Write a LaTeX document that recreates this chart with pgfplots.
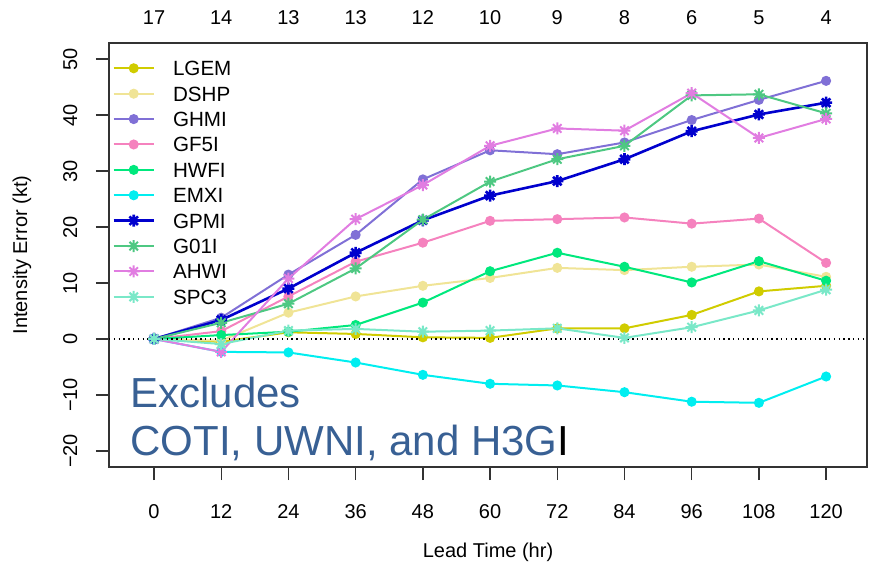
\documentclass[border=0pt]{standalone}
\usepackage{pgfplots}
\pgfplotsset{compat=1.18}
\usepackage{pgfplotstable}
\usepackage{fontspec}
\setmainfont{Liberation Sans}

% R-style pch=8 star (plus and cross)
\pgfdeclareplotmark{rstar}{%
  \pgfpathmoveto{\pgfqpoint{-\pgfplotmarksize}{0pt}}%
  \pgfpathlineto{\pgfqpoint{\pgfplotmarksize}{0pt}}%
  \pgfpathmoveto{\pgfqpoint{0pt}{-\pgfplotmarksize}}%
  \pgfpathlineto{\pgfqpoint{0pt}{\pgfplotmarksize}}%
  \pgfpathmoveto{\pgfqpoint{-0.7071\pgfplotmarksize}{-0.7071\pgfplotmarksize}}%
  \pgfpathlineto{\pgfqpoint{0.7071\pgfplotmarksize}{0.7071\pgfplotmarksize}}%
  \pgfpathmoveto{\pgfqpoint{-0.7071\pgfplotmarksize}{0.7071\pgfplotmarksize}}%
  \pgfpathlineto{\pgfqpoint{0.7071\pgfplotmarksize}{-0.7071\pgfplotmarksize}}%
  \pgfusepathqstroke}

\definecolor{lgem}{RGB}{208,204,0}
\definecolor{dshp}{RGB}{240,228,150}
\definecolor{ghmi}{RGB}{128,112,214}
\definecolor{gf5i}{RGB}{245,130,190}
\definecolor{hwfi}{RGB}{0,232,125}
\definecolor{emxi}{RGB}{0,238,240}
\definecolor{gpmi}{RGB}{0,0,205}
\definecolor{g01i}{RGB}{78,200,130}
\definecolor{ahwi}{RGB}{225,125,225}
\definecolor{spc3}{RGB}{122,232,200}
\definecolor{notecol}{RGB}{56,96,148}

\pgfplotstableread{
t   LGEM DSHP GHMI GF5I HWFI EMXI  GPMI G01I AHWI SPC3
0   0    0    0    0    0    0     0    0    0    0
12  -0.5 -0.3 3.8  1.4  0.7  -2.3  3.4  2.9  -2.3 -0.9
24  1.2  4.7  11.5 7.6  1.3  -2.4  9.0  6.3  10.8 1.5
36  0.9  7.6  18.6 13.8 2.5  -4.2  15.4 12.6 21.4 1.8
48  0.3  9.5  28.5 17.2 6.5  -6.4  21.2 21.3 27.5 1.3
60  0.2  10.9 33.7 21.1 12.1 -8.0  25.6 28.1 34.5 1.5
72  1.9  12.7 33.0 21.4 15.4 -8.3  28.2 32.1 37.6 1.9
84  1.9  12.3 35.1 21.7 12.9 -9.5  32.1 34.5 37.2 0.2
96  4.3  12.9 39.1 20.6 10.1 -11.2 37.1 43.5 43.9 2.1
108 8.5  13.3 42.7 21.5 13.9 -11.4 40.1 43.7 35.9 5.1
120 9.5  11.1 46.1 13.6 10.4 -6.7  42.2 40.3 39.3 8.8
}\data

\begin{document}
\begin{tikzpicture}
\begin{axis}[
  name=ax,
  scale only axis,
  width=379pt, height=212pt,
  xmin=-8.04, xmax=127.3,
  ymin=-22.86, ymax=52.86,
  axis line style={line width=0.7pt, black!80},
  tick style={line width=0.7pt, black!80},
  tick align=outside,
  major tick length=6.5pt,
  xtick pos=bottom, ytick pos=left,
  xtick={0,12,24,36,48,60,72,84,96,108,120},
  xticklabels={0,12,24,36,48,60,72,84,96,108,120},
  ytick={-20,-10,0,10,20,30,40,50},
  yticklabels={−20,−10,0,10,20,30,40,50},
  tick label style={font=\fontsize{10}{12}\selectfont},
  xticklabel shift=8.8pt,
  yticklabel style={rotate=90, anchor=south},
  yticklabel shift=5.8pt,
  xlabel={Lead Time (hr)},
  ylabel={Intensity Error (kt)},
  label style={font=\fontsize{10}{12}\selectfont},
  xlabel style={at={(rel axis cs:0.5,-0.2005)}, anchor=center},
  ylabel style={at={(rel axis cs:-0.1148,0.5)}, anchor=center},
  legend style={at={(rel axis cs:0.004,0.959)}, anchor=north west,
    draw=none, fill=none, inner xsep=0pt, inner ysep=0pt,
    font=\fontsize{10.3}{12}\selectfont,
    nodes={inner sep=0pt, text height=7.5pt, text depth=0pt},
    row sep=5.2pt},
  legend cell align=left,
  legend image code/.code={%
    \draw[mark repeat=2, mark phase=2, #1] plot coordinates {(0pt,0pt) (10pt,0pt) (20pt,0pt)};
    \path (29pt,0pt);},
]
\addplot[lgem, line width=1pt, mark=*, mark size=2pt] table[x=t, y=LGEM]{\data};
\addplot[dshp, line width=1pt, mark=*, mark size=2pt] table[x=t, y=DSHP]{\data};
\addplot[ghmi, line width=1pt, mark=*, mark size=2pt] table[x=t, y=GHMI]{\data};
\addplot[gf5i, line width=1pt, mark=*, mark size=2pt] table[x=t, y=GF5I]{\data};
\addplot[hwfi, line width=1pt, mark=*, mark size=2pt] table[x=t, y=HWFI]{\data};
\addplot[emxi, line width=1pt, mark=*, mark size=2pt] table[x=t, y=EMXI]{\data};
\addplot[gpmi, line width=1.3pt, mark=rstar, mark size=3pt] table[x=t, y=GPMI]{\data};
\addplot[g01i, line width=1pt, mark=rstar, mark size=3pt] table[x=t, y=G01I]{\data};
\addplot[ahwi, line width=1pt, mark=rstar, mark size=3pt] table[x=t, y=AHWI]{\data};
\addplot[spc3, line width=1pt, mark=rstar, mark size=3pt] table[x=t, y=SPC3]{\data};
\legend{LGEM,DSHP,GHMI,GF5I,HWFI,EMXI,GPMI,G01I,AHWI,SPC3}
\addplot[black, line width=0.75pt, dash pattern=on 0.75pt off 1.65pt, forget plot]
  coordinates {(-8.04,0) (127.3,0)};
\node[anchor=base west, inner sep=0pt, text=notecol, font=\fontsize{21}{24}\selectfont]
  at (rel axis cs:0.0277,0.1415) {Excludes};
\node[anchor=base west, inner sep=0pt, text=notecol, font=\fontsize{21}{24}\selectfont]
  at (rel axis cs:0.0277,0.0283) {COTI, UWNI, and H3G{\color{black}I}};
\end{axis}
\begin{axis}[
  scale only axis,
  width=379pt, height=212pt,
  xmin=-8.04, xmax=127.3,
  ymin=-22.86, ymax=52.86,
  axis x line*=top, axis y line=none,
  x axis line style={draw=none},
  major tick length=0pt,
  xtick={0,12,24,36,48,60,72,84,96,108,120},
  xticklabels={17,14,13,13,12,10,9,8,6,5,4},
  tick label style={font=\fontsize{10}{12}\selectfont},
  xticklabel shift=5.6pt,
]
\end{axis}
\pgfresetboundingbox
\path ([shift={(-54.5pt,-51pt)}]ax.south west) rectangle ([shift={(1pt,21.5pt)}]ax.north east);
\end{tikzpicture}
\end{document}
